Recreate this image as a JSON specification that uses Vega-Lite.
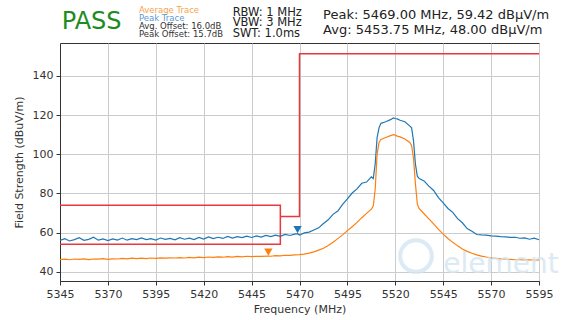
{
  "$schema": "https://vega.github.io/schema/vega-lite/v6.json",
  "width": 479,
  "height": 238,
  "autosize": "none",
  "padding": {"left": 60, "top": 43, "right": 37, "bottom": 39},
  "background": "white",
  "config": {
    "font": "DejaVu Sans",
    "view": {"stroke": "#333", "strokeWidth": 1},
    "axis": {
      "labelFont": "DejaVu Sans", "titleFont": "DejaVu Sans",
      "labelFontSize": 11, "titleFontSize": 11,
      "labelColor": "#333", "titleColor": "#333", "titleFontWeight": "normal",
      "tickColor": "#333", "domainColor": "#333", "tickSize": 4,
      "gridColor": "#cccccc", "gridWidth": 1, "labelFlush": false, "labelOverlap": false
    }
  },
  "datasets": {
    "traces": [
      {"f":5345,"v":56.0,"trace":"Peak"},{"f":5347.5,"v":56.9,"trace":"Peak"},{"f":5350,"v":55.7,"trace":"Peak"},{"f":5352.5,"v":56.4,"trace":"Peak"},{"f":5355,"v":57.4,"trace":"Peak"},{"f":5357.5,"v":56.0,"trace":"Peak"},{"f":5360,"v":56.5,"trace":"Peak"},{"f":5362.5,"v":57.6,"trace":"Peak"},{"f":5365,"v":56.1,"trace":"Peak"},{"f":5367.5,"v":56.8,"trace":"Peak"},{"f":5370,"v":55.9,"trace":"Peak"},{"f":5372.5,"v":56.8,"trace":"Peak"},{"f":5375,"v":56.2,"trace":"Peak"},{"f":5377.5,"v":57.2,"trace":"Peak"},{"f":5380,"v":56.1,"trace":"Peak"},{"f":5382.5,"v":56.9,"trace":"Peak"},{"f":5385,"v":56.4,"trace":"Peak"},{"f":5387.5,"v":57.3,"trace":"Peak"},{"f":5390,"v":56.4,"trace":"Peak"},{"f":5392.5,"v":56.9,"trace":"Peak"},{"f":5395,"v":56.2,"trace":"Peak"},{"f":5397.5,"v":57.2,"trace":"Peak"},{"f":5400,"v":56.5,"trace":"Peak"},{"f":5402.5,"v":57.0,"trace":"Peak"},{"f":5405,"v":56.3,"trace":"Peak"},{"f":5407.5,"v":57.4,"trace":"Peak"},{"f":5410,"v":56.6,"trace":"Peak"},{"f":5412.5,"v":57.1,"trace":"Peak"},{"f":5415,"v":56.4,"trace":"Peak"},{"f":5417.5,"v":57.5,"trace":"Peak"},{"f":5420,"v":56.7,"trace":"Peak"},{"f":5422.5,"v":57.8,"trace":"Peak"},{"f":5425,"v":56.9,"trace":"Peak"},{"f":5427.5,"v":57.6,"trace":"Peak"},{"f":5430,"v":57.0,"trace":"Peak"},{"f":5432.5,"v":58.0,"trace":"Peak"},{"f":5435,"v":57.2,"trace":"Peak"},{"f":5437.5,"v":57.9,"trace":"Peak"},{"f":5440,"v":57.4,"trace":"Peak"},{"f":5442.5,"v":58.2,"trace":"Peak"},{"f":5445,"v":57.5,"trace":"Peak"},{"f":5447.5,"v":58.3,"trace":"Peak"},{"f":5450,"v":57.7,"trace":"Peak"},{"f":5452.5,"v":58.5,"trace":"Peak"},{"f":5455,"v":57.9,"trace":"Peak"},{"f":5457.5,"v":58.7,"trace":"Peak"},{"f":5460,"v":58.1,"trace":"Peak"},{"f":5462.5,"v":59.1,"trace":"Peak"},{"f":5465,"v":58.5,"trace":"Peak"},{"f":5467.5,"v":59.2,"trace":"Peak"},{"f":5469,"v":59.4,"trace":"Peak"},{"f":5470,"v":58.7,"trace":"Peak"},{"f":5472.5,"v":59.8,"trace":"Peak"},{"f":5475,"v":60.2,"trace":"Peak"},{"f":5477.5,"v":61.3,"trace":"Peak"},{"f":5480,"v":62.4,"trace":"Peak"},{"f":5482.5,"v":64.6,"trace":"Peak"},{"f":5485,"v":66.5,"trace":"Peak"},{"f":5487.5,"v":69.3,"trace":"Peak"},{"f":5490,"v":71.0,"trace":"Peak"},{"f":5492.5,"v":74.4,"trace":"Peak"},{"f":5495,"v":77.2,"trace":"Peak"},{"f":5497.5,"v":80.2,"trace":"Peak"},{"f":5500,"v":82.3,"trace":"Peak"},{"f":5502.5,"v":85.2,"trace":"Peak"},{"f":5505,"v":85.8,"trace":"Peak"},{"f":5507.5,"v":88.5,"trace":"Peak"},{"f":5508.5,"v":87.6,"trace":"Peak"},{"f":5509.5,"v":95.0,"trace":"Peak"},{"f":5510.5,"v":108.5,"trace":"Peak"},{"f":5511.5,"v":113.5,"trace":"Peak"},{"f":5512.5,"v":115.8,"trace":"Peak"},{"f":5515,"v":116.6,"trace":"Peak"},{"f":5517.5,"v":117.7,"trace":"Peak"},{"f":5519,"v":118.6,"trace":"Peak"},{"f":5520,"v":118.3,"trace":"Peak"},{"f":5521,"v":118.1,"trace":"Peak"},{"f":5522.5,"v":117.4,"trace":"Peak"},{"f":5525,"v":116.6,"trace":"Peak"},{"f":5527.5,"v":114.5,"trace":"Peak"},{"f":5528.5,"v":113.5,"trace":"Peak"},{"f":5529.5,"v":107.0,"trace":"Peak"},{"f":5530.5,"v":95.0,"trace":"Peak"},{"f":5531.5,"v":88.8,"trace":"Peak"},{"f":5532.5,"v":87.6,"trace":"Peak"},{"f":5535,"v":86.4,"trace":"Peak"},{"f":5537.5,"v":83.7,"trace":"Peak"},{"f":5540,"v":81.5,"trace":"Peak"},{"f":5542.5,"v":77.9,"trace":"Peak"},{"f":5545,"v":75.2,"trace":"Peak"},{"f":5547.5,"v":72.3,"trace":"Peak"},{"f":5550,"v":70.3,"trace":"Peak"},{"f":5552.5,"v":67.1,"trace":"Peak"},{"f":5555,"v":65.0,"trace":"Peak"},{"f":5557.5,"v":62.0,"trace":"Peak"},{"f":5560,"v":60.7,"trace":"Peak"},{"f":5562.5,"v":59.0,"trace":"Peak"},{"f":5565,"v":58.8,"trace":"Peak"},{"f":5567.5,"v":58.7,"trace":"Peak"},{"f":5570,"v":58.3,"trace":"Peak"},{"f":5572.5,"v":58.2,"trace":"Peak"},{"f":5575,"v":57.9,"trace":"Peak"},{"f":5577.5,"v":57.8,"trace":"Peak"},{"f":5580,"v":57.5,"trace":"Peak"},{"f":5582.5,"v":57.6,"trace":"Peak"},{"f":5585,"v":57.1,"trace":"Peak"},{"f":5587.5,"v":57.3,"trace":"Peak"},{"f":5590,"v":56.6,"trace":"Peak"},{"f":5592.5,"v":57.1,"trace":"Peak"},{"f":5595,"v":56.3,"trace":"Peak"},
      {"f":5345,"v":46.2,"trace":"Average"},{"f":5347.5,"v":46.4,"trace":"Average"},{"f":5350,"v":46.1,"trace":"Average"},{"f":5352.5,"v":46.5,"trace":"Average"},{"f":5355,"v":46.3,"trace":"Average"},{"f":5357.5,"v":46.6,"trace":"Average"},{"f":5360,"v":46.2,"trace":"Average"},{"f":5362.5,"v":46.5,"trace":"Average"},{"f":5365,"v":46.4,"trace":"Average"},{"f":5367.5,"v":46.7,"trace":"Average"},{"f":5370,"v":46.3,"trace":"Average"},{"f":5372.5,"v":46.6,"trace":"Average"},{"f":5375,"v":46.5,"trace":"Average"},{"f":5377.5,"v":46.8,"trace":"Average"},{"f":5380,"v":46.6,"trace":"Average"},{"f":5382.5,"v":46.9,"trace":"Average"},{"f":5385,"v":46.7,"trace":"Average"},{"f":5387.5,"v":46.9,"trace":"Average"},{"f":5390,"v":46.7,"trace":"Average"},{"f":5392.5,"v":47.0,"trace":"Average"},{"f":5395,"v":46.8,"trace":"Average"},{"f":5397.5,"v":47.1,"trace":"Average"},{"f":5400,"v":46.9,"trace":"Average"},{"f":5402.5,"v":47.1,"trace":"Average"},{"f":5405,"v":47.0,"trace":"Average"},{"f":5407.5,"v":47.2,"trace":"Average"},{"f":5410,"v":47.0,"trace":"Average"},{"f":5412.5,"v":47.3,"trace":"Average"},{"f":5415,"v":47.1,"trace":"Average"},{"f":5417.5,"v":47.4,"trace":"Average"},{"f":5420,"v":47.2,"trace":"Average"},{"f":5422.5,"v":47.5,"trace":"Average"},{"f":5425,"v":47.3,"trace":"Average"},{"f":5427.5,"v":47.6,"trace":"Average"},{"f":5430,"v":47.4,"trace":"Average"},{"f":5432.5,"v":47.7,"trace":"Average"},{"f":5435,"v":47.5,"trace":"Average"},{"f":5437.5,"v":47.8,"trace":"Average"},{"f":5440,"v":47.6,"trace":"Average"},{"f":5442.5,"v":47.9,"trace":"Average"},{"f":5445,"v":47.7,"trace":"Average"},{"f":5447.5,"v":47.9,"trace":"Average"},{"f":5450,"v":47.8,"trace":"Average"},{"f":5453.75,"v":48.0,"trace":"Average"},{"f":5455,"v":47.9,"trace":"Average"},{"f":5457.5,"v":48.2,"trace":"Average"},{"f":5460,"v":48.1,"trace":"Average"},{"f":5462.5,"v":48.4,"trace":"Average"},{"f":5465,"v":48.3,"trace":"Average"},{"f":5467.5,"v":48.6,"trace":"Average"},{"f":5470,"v":48.7,"trace":"Average"},{"f":5472.5,"v":49.0,"trace":"Average"},{"f":5475,"v":49.5,"trace":"Average"},{"f":5477.5,"v":50.1,"trace":"Average"},{"f":5480,"v":51.0,"trace":"Average"},{"f":5482.5,"v":52.0,"trace":"Average"},{"f":5485,"v":53.4,"trace":"Average"},{"f":5487.5,"v":55.0,"trace":"Average"},{"f":5490,"v":56.9,"trace":"Average"},{"f":5492.5,"v":58.8,"trace":"Average"},{"f":5495,"v":61.0,"trace":"Average"},{"f":5497.5,"v":63.0,"trace":"Average"},{"f":5500,"v":65.2,"trace":"Average"},{"f":5502.5,"v":67.6,"trace":"Average"},{"f":5505,"v":69.8,"trace":"Average"},{"f":5507.5,"v":72.0,"trace":"Average"},{"f":5508.5,"v":73.5,"trace":"Average"},{"f":5509.5,"v":82.0,"trace":"Average"},{"f":5510.5,"v":100.0,"trace":"Average"},{"f":5511.5,"v":106.0,"trace":"Average"},{"f":5512.5,"v":107.6,"trace":"Average"},{"f":5515,"v":108.6,"trace":"Average"},{"f":5517.5,"v":109.5,"trace":"Average"},{"f":5519,"v":110.0,"trace":"Average"},{"f":5520,"v":109.8,"trace":"Average"},{"f":5521,"v":109.3,"trace":"Average"},{"f":5522.5,"v":108.9,"trace":"Average"},{"f":5525,"v":107.8,"trace":"Average"},{"f":5527.5,"v":106.0,"trace":"Average"},{"f":5528.5,"v":104.5,"trace":"Average"},{"f":5529.5,"v":98.0,"trace":"Average"},{"f":5530.5,"v":85.0,"trace":"Average"},{"f":5531.5,"v":74.5,"trace":"Average"},{"f":5532.5,"v":72.2,"trace":"Average"},{"f":5535,"v":69.6,"trace":"Average"},{"f":5537.5,"v":67.0,"trace":"Average"},{"f":5540,"v":64.4,"trace":"Average"},{"f":5542.5,"v":61.6,"trace":"Average"},{"f":5545,"v":59.2,"trace":"Average"},{"f":5547.5,"v":57.0,"trace":"Average"},{"f":5550,"v":55.0,"trace":"Average"},{"f":5552.5,"v":53.2,"trace":"Average"},{"f":5555,"v":51.6,"trace":"Average"},{"f":5557.5,"v":50.4,"trace":"Average"},{"f":5560,"v":49.4,"trace":"Average"},{"f":5562.5,"v":48.6,"trace":"Average"},{"f":5565,"v":48.0,"trace":"Average"},{"f":5567.5,"v":47.5,"trace":"Average"},{"f":5570,"v":47.1,"trace":"Average"},{"f":5572.5,"v":46.8,"trace":"Average"},{"f":5575,"v":46.6,"trace":"Average"},{"f":5577.5,"v":46.4,"trace":"Average"},{"f":5580,"v":46.3,"trace":"Average"},{"f":5582.5,"v":46.1,"trace":"Average"},{"f":5585,"v":46.2,"trace":"Average"},{"f":5587.5,"v":46.0,"trace":"Average"},{"f":5590,"v":46.1,"trace":"Average"},{"f":5592.5,"v":45.9,"trace":"Average"},{"f":5595,"v":46.0,"trace":"Average"}
    ],
    "limits": [
      {"f":5345,"v":74,"seg":"restricted","o":1},{"f":5460,"v":74,"seg":"restricted","o":2},{"f":5460,"v":54,"seg":"restricted","o":3},{"f":5345,"v":54,"seg":"restricted","o":4},
      {"f":5460,"v":68.2,"seg":"band","o":1},{"f":5470,"v":68.2,"seg":"band","o":2},{"f":5470,"v":151.4,"seg":"band","o":3},{"f":5595,"v":151.4,"seg":"band","o":4}
    ],
    "markers": [
      {"f":5469,"v":59.42,"trace":"Peak"},
      {"f":5453.75,"v":48.0,"trace":"Average"}
    ],
    "one": [{}]
  },
  "layer": [
    {
      "data": {"name": "limits"},
      "mark": {"type": "line", "color": "#e8383d", "strokeWidth": 1.5},
      "encoding": {
        "x": {"field": "f", "type": "quantitative", "scale": {"domain": [5345, 5595], "nice": false, "zero": false},
              "axis": {"title": "Frequency (MHz)", "values": [5345,5370,5395,5420,5445,5470,5495,5520,5545,5570,5595], "format": "d", "labelPadding": 3, "titlePadding": 4}},
        "y": {"field": "v", "type": "quantitative", "scale": {"domain": [35.25, 156.86], "nice": false, "zero": false},
              "axis": {"title": "Field Strength (dBuV/m)", "values": [40,60,80,100,120,140], "labelPadding": 3, "titlePadding": 8}},
        "detail": {"field": "seg"},
        "order": {"field": "o"}
      }
    },
    {
      "data": {"name": "traces"},
      "mark": {"type": "line", "strokeWidth": 1.2},
      "encoding": {
        "x": {"field": "f", "type": "quantitative"},
        "y": {"field": "v", "type": "quantitative"},
        "color": {"field": "trace", "type": "nominal", "scale": {"domain": ["Peak", "Average"], "range": ["#1f77b4", "#ff7f0e"]}, "legend": null}
      }
    },
    {
      "data": {"name": "markers"},
      "mark": {"type": "point", "shape": "triangle-down", "filled": true, "opacity": 1, "size": 70, "yOffset": -4},
      "encoding": {
        "x": {"field": "f", "type": "quantitative"},
        "y": {"field": "v", "type": "quantitative"},
        "color": {"field": "trace", "type": "nominal", "legend": null}
      }
    },
    {
      "data": {"name": "one"},
      "mark": {"type": "point", "shape": "circle", "filled": false, "size": 1000, "strokeWidth": 4, "color": "#d3e6f2", "opacity": 0.8},
      "encoding": {"x": {"datum": 5530.8}, "y": {"datum": 48}}
    },
    {
      "data": {"name": "one"},
      "mark": {"type": "text", "text": "element", "fontSize": 28, "color": "#d3e6f2", "opacity": 0.8, "align": "left", "baseline": "alphabetic"},
      "encoding": {"x": {"datum": 5545}, "y": {"datum": 39.3}}
    },
    {
      "data": {"name": "one"},
      "mark": {"type": "text", "text": "PASS", "fontSize": 24, "color": "#1e8c1e", "align": "left", "baseline": "alphabetic"},
      "encoding": {"x": {"datum": 5345.9}, "y": {"datum": 164.0}}
    },
    {
      "data": {"name": "one"},
      "mark": {"type": "text", "text": "Average Trace", "fontSize": 8.5, "color": "#f5a54a", "align": "left", "baseline": "alphabetic"},
      "encoding": {"x": {"datum": 5386.2}, "y": {"datum": 172.2}}
    },
    {
      "data": {"name": "one"},
      "mark": {"type": "text", "text": "Peak Trace", "fontSize": 8.5, "color": "#5b9bd5", "align": "left", "baseline": "alphabetic"},
      "encoding": {"x": {"datum": 5386.2}, "y": {"datum": 167.9}}
    },
    {
      "data": {"name": "one"},
      "mark": {"type": "text", "text": "Avg. Offset: 16.0dB", "fontSize": 8.5, "color": "#333", "align": "left", "baseline": "alphabetic"},
      "encoding": {"x": {"datum": 5386.2}, "y": {"datum": 163.8}}
    },
    {
      "data": {"name": "one"},
      "mark": {"type": "text", "text": "Peak Offset: 15.7dB", "fontSize": 8.5, "color": "#333", "align": "left", "baseline": "alphabetic"},
      "encoding": {"x": {"datum": 5386.2}, "y": {"datum": 159.7}}
    },
    {
      "data": {"name": "one"},
      "mark": {"type": "text", "text": "RBW: 1 MHz", "fontSize": 11.5, "color": "#222", "align": "left", "baseline": "alphabetic"},
      "encoding": {"x": {"datum": 5435.1}, "y": {"datum": 170.7}}
    },
    {
      "data": {"name": "one"},
      "mark": {"type": "text", "text": "VBW: 3 MHz", "fontSize": 11.5, "color": "#222", "align": "left", "baseline": "alphabetic"},
      "encoding": {"x": {"datum": 5435.1}, "y": {"datum": 165.3}}
    },
    {
      "data": {"name": "one"},
      "mark": {"type": "text", "text": "SWT: 1.0ms", "fontSize": 11.5, "color": "#222", "align": "left", "baseline": "alphabetic"},
      "encoding": {"x": {"datum": 5435.1}, "y": {"datum": 159.9}}
    },
    {
      "data": {"name": "one"},
      "mark": {"type": "text", "text": "Peak: 5469.00 MHz, 59.42 dBµV/m", "fontSize": 13, "color": "#222", "align": "left", "baseline": "alphabetic"},
      "encoding": {"x": {"datum": 5482.3}, "y": {"datum": 169.3}}
    },
    {
      "data": {"name": "one"},
      "mark": {"type": "text", "text": "Avg: 5453.75 MHz, 48.00 dBµV/m", "fontSize": 13, "color": "#222", "align": "left", "baseline": "alphabetic"},
      "encoding": {"x": {"datum": 5482.3}, "y": {"datum": 161.3}}
    }
  ]
}
